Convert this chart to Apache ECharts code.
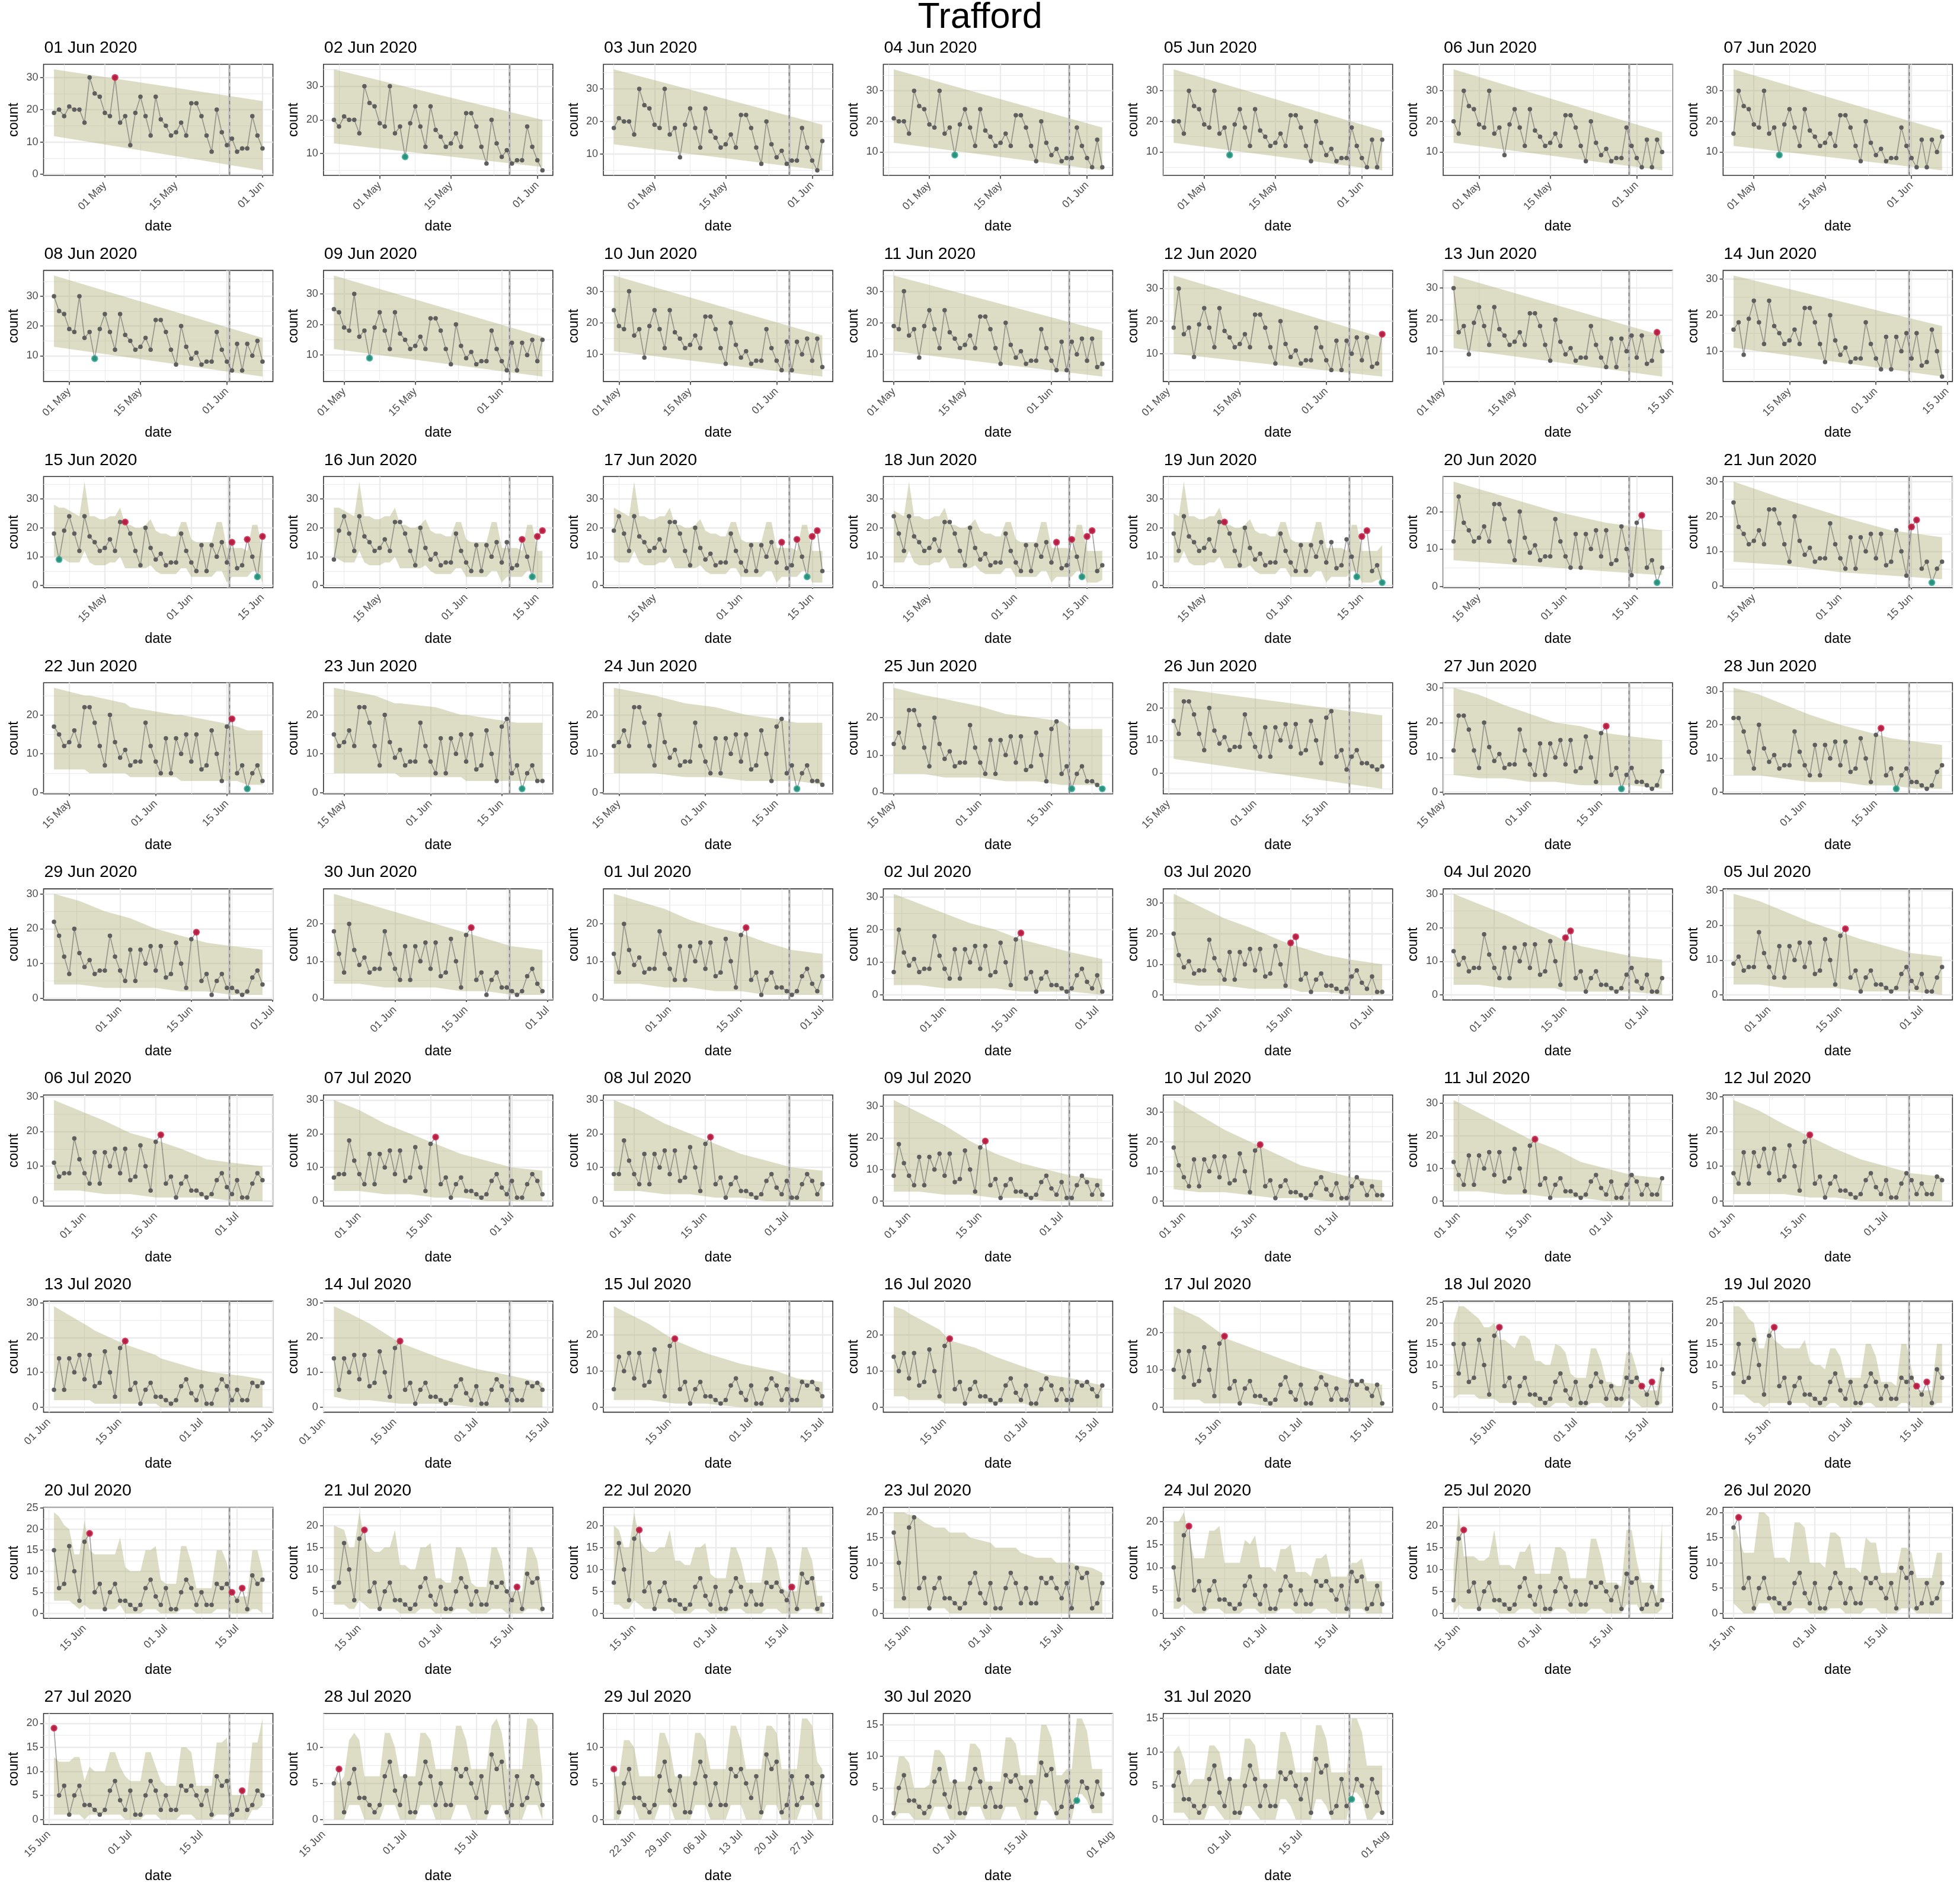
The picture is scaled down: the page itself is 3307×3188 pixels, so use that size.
<!DOCTYPE html>
<html><head><meta charset="utf-8">
<script src="https://cdn.jsdelivr.net/npm/echarts@6/dist/echarts.min.js"></script>
<style>html,body{margin:0;padding:0;background:#fff}#c{width:3307px;height:3188px}</style>
</head><body><div id="c"></div>
<script>
// ---------------- DATA ----------------
const mainTitle = 'Trafford';
const seriesStart = '2020-04-21';
// daily counts 21 Apr - 1 Jun
const countsAprMay = [19,20,18,21,20,20,16,30,25,24,19,18,30,16,18,9,19,24,18,12,24,17,15,12,13,16,12,22,22,18,12,7,20,13,9,11,7,8,8,18,12,8];
// daily counts 2 Jun - 13 Jul
const countsJunJul = [5,14,5,14,10,15,8,15,6,7,16,10,3,17,19,5,7,1,5,7,3,3,2,1,2,6,8,4,2,6,1,1,5,8,6,2,5,2,2,7,6,7];
// daily counts 14 Jul - 31 Jul
const countsJul = [5,3,6,1,9,7,8,1,2,6,2,3,6,5,2,6,4,1];

const panelDates = [
 '2020-06-01','2020-06-02','2020-06-03','2020-06-04','2020-06-05','2020-06-06','2020-06-07',
 '2020-06-08','2020-06-09','2020-06-10','2020-06-11','2020-06-12','2020-06-13','2020-06-14',
 '2020-06-15','2020-06-16','2020-06-17','2020-06-18','2020-06-19','2020-06-20','2020-06-21',
 '2020-06-22','2020-06-23','2020-06-24','2020-06-25','2020-06-26','2020-06-27','2020-06-28',
 '2020-06-29','2020-06-30','2020-07-01','2020-07-02','2020-07-03','2020-07-04','2020-07-05',
 '2020-07-06','2020-07-07','2020-07-08','2020-07-09','2020-07-10','2020-07-11','2020-07-12',
 '2020-07-13','2020-07-14','2020-07-15','2020-07-16','2020-07-17','2020-07-18','2020-07-19',
 '2020-07-20','2020-07-21','2020-07-22','2020-07-23','2020-07-24','2020-07-25','2020-07-26',
 '2020-07-27','2020-07-28','2020-07-29','2020-07-30','2020-07-31'];

// highlighted points (MM-DD) per panel
const redDates = [
 ['05-03'],[],[],[],[],[],[],
 [],[],[],[],['06-12'],['06-12'],[],
 ['05-19','06-09','06-12','06-15'],['06-12','06-15','06-16'],['06-09','06-12','06-15','06-16'],['06-09','06-12','06-15','06-16'],['05-19','06-15','06-16'],['06-16'],['06-15','06-16'],
 ['06-16'],[],[],[],[],['06-16'],['06-16'],
 ['06-16'],['06-16'],['06-16'],['06-16'],['06-15','06-16'],['06-15','06-16'],['06-16'],
 ['06-16'],['06-16'],['06-16'],['06-16'],['06-16'],['06-16'],['06-16'],
 ['06-16'],['06-16'],['06-16'],['06-16'],['06-16'],['06-16','07-14','07-16'],['06-16','07-14','07-16'],
 ['06-16','07-14','07-16'],['06-16','07-16'],['06-16','07-16'],[],['06-16'],['06-16'],['06-16'],
 ['06-16','07-23'],['06-18'],['06-18'],[],[]];
const greenDates = [
 [],['05-06'],[],['05-06'],['05-06'],[],['05-06'],
 ['05-06'],['05-06'],[],[],[],[],[],
 ['05-06','06-14'],['06-14'],['06-14'],['06-14'],['06-14','06-19'],['06-19'],['06-19'],
 ['06-19'],['06-19'],['06-19'],['06-19','06-25'],[],['06-19'],['06-19'],
 [],[],[],[],[],[],[],
 [],[],[],[],[],[],[],
 [],[],[],[],[],[],[],
 [],[],[],[],[],[],[],
 [],[],[],['07-25'],['07-25']];

// shared expected band (by date) for the 15-19 Jun panels, from 5 May
const junBandStart = '2020-05-05';
const junBandHi = [28,27,27,26,25,24,36,24,24,23,23,24,24,27,21,21,20,20,21,23,19,18,18,17,17,22,22,16,15,15,15,15,22,22,13,13,13,13,12,21,21,12,12,12,12,14];
const junBandLo = [10,10,9,8,8,8,12,8,7,7,7,8,8,10,6,6,6,6,6,7,5,4,4,4,4,6,6,3,3,3,3,3,5,5,1,3,3,3,3,5,5,1,1,1,2,2];

// daily bands (offset 0..41) for late-July panels
const lo0718 = [2,3,3,3,3,2,2,2,2,1,1,1,1,1,1,1,0,0,0,0,1,1,1,0,0,0,0,1,1,1,0,0,0,0,2,2,1,0,0,0,0,1];
const hi0718 = [20,24,24,23,22,21,19,19,20,16,16,15,14,17,17,16,11,11,10,10,15,14.5,13,8,7,7,7,14,14,11,6,6,5,5,13,13,9,4,4,4,4,12];
const lo0719 = [3,3,3,2,1,1,0,1,1,1,1,1,1,1,1,0,0,0,0,1,1,0,0,0,0,0,1,1,0,0,0,0,0,1,1,0,0,0,0,0,1,1];
const hi0719 = [24,24,23,21,20,14,14,19,16,15,14,14,14,14,16,11,10,10,9,14,14,12,7,7,7,7,15,15,12,6,6,6,5,15,15,9,4,4,4,4,15,15];
const lo0720 = [3,3,3,3,2,1,2,1,1,1,1,1,1,2,0,0,0,0,1,1,1,0,0,0,0,1,1,1,0,0,0,0,1,1,1,0,0,0,0,1,1,0];
const hi0720 = [24,23,21,20,14,14,22,15,14,14,14,14,14,18,11,10,10,10,15,15,16,8,7,7,7,16,16,12,6,6,6,6,15,15,12,4,4,4,4,15,15,10];
const lo0721 = [2,2,2,1,1,3,2,1,1,1,1,1,1,0,0,0,0,1,1,1,0,0,0,0,1,1,1,0,0,0,0,1,1,1,0,0,0,0,1,1,1,0];
const hi0721 = [20,19.5,19,15,15,23,17,15,14,14,15,15,19,11,11,10,10,15,15,16,8,8,7,7,15,15,12,7,6,6,6,15,15,12,5,5,5,5,15,15,12,4];
const lo0722 = [2,2,1,1,3,2,1,1,1,1,1,1,0,0,0,0,1,1,1,0,0,0,0,1,1,1,0,0,0,0,1,1,1,0,0,0,0,1,1,1,0,0];
const hi0722 = [20,19,15,15,23,17,15,14,14,15,15,19,12,12,11,11,15,15,16,9,8,8,8,15,15,12,7,7,7,7,15,15,12,6,5,5,5,15,15,12,4,4];
const lo0724 = [1,1,2,1,0,0,0,1,1,1,0,0,0,0,1,1,1,0,0,0,0,1,1,1,0,0,0,0,1,1,1,0,0,0,0,1,1,1,0,0,0,0];
const hi0724 = [20,20,22,17,12,12,12,18,18,19,11,11,11,11,16,15,17,10,10,10,9,14,14,15,9,9,9,8,12,12,13,8,8,8,8,11,11,12,7,7,7,7];
const lo0725 = [0,2,1,1,1,1,1,1,1,0,0,0,0,1,1,1,0,0,0,0,1,1,1,0,0,0,0,1,1,1,0,0,0,0,2,2,2,0,0,0,0,1];
const hi0725 = [11,23,13,13,13,12,12,13,19,11,11,11,10,14,14,16,9,9,9,9,15,15,14,8,8,8,8,17,17,13,7,7,7,6,19,19,12,7,7,7,4,21];
const lo0726 = [2,1,0,0,0,2,2,2,0,0,0,0,1,1,1,0,0,0,0,1,1,1,0,0,0,0,1,1,1,0,0,0,0,1,1,1,0,0,0,0,0,0];
const hi0726 = [18,15,12,12,12,20,20,19,11,11,11,10,18,18,17,10,10,10,9,16,16,15,9,9,9,8,15,14,14,8,8,8,8,13,13,12,7,7,7,7,12,12];
const lo0727 = [1,1,1,1,1,1,0,1,1,1,1,1,1,1,0,0,0,0,1,1,1,0,0,0,0,1,1,1,0,0,0,0,1,1,1,0,0,0,0,2,2,3];
const hi0727 = [13,12,12,12,13,13,8,11,10,10,10,14,14,11,9,8,8,8,14,14,11,8,7,7,7,15,15,14,7,7,7,7,16,16,17,5,5,5,5,16,16,21];
const lo0728 = [0,0,0,2,2,2,0,0,0,0,2,2,2,0,0,0,0,2,2,2,0,0,0,0,2,2,2,0,0,0,0,2,2,2,0,0,0,0,2,2,2,0];
const hi0728 = [6,5,6,11,12,11,6,6,6,6,12,12,10,6,6,6,6,12,12,11,7,7,7,7,13,13,11,7,7,7,7,13,14,12,7,7,7,7,14,14,13,6];
const lo0729 = [0,0,2,2,2,0,0,0,0,2,2,2,0,0,0,0,2,2,2,0,0,0,0,2,2,2,0,0,0,0,2,2,2,0,0,0,0,2,2,2,0,0];
const hi0729 = [6,6,11,11,10,6,6,6,6,12,12,10,6,6,6,6,12,12,11,7,7,7,7,13,13,11,7,7,7,7,13,13,12,7,7,7,7,14,14,13,8,7];
const lo0730 = [0,1,1,1,0,0,0,0,2,2,2,0,0,0,0,2,2,2,0,0,0,0,2,2,2,0,0,0,0,3,3,2,0,0,0,0,4,4,3,1,1,1];
const hi0730 = [5,10,10,9,5,5,5,5.5,11,11,10,6,6,6,6,12,12,11,6,6,6,6,13,13,12,7,7,7,7,15,15,13,7,7,8,8,16,16,14,8,8,8];
const lo0731 = [1,1,1,0,0,0,0,2,2,1,0,0,0,0,2,2,1,0,0,0,0,3,3,2,0,0,0,0,3,3,2,0,0,0,0,4,4,3,0,0,1,1];
const hi0731 = [10,11,9,5,6,6,6,11,11,10,6,6,6,6,12,12,11,6,6,6,6,13,13,11,7,7,7,7,14,14,12,7,7,7,7,15,15,13,8,8,8,8];

// expected band knots per panel: [dayOffset, lower, upper]
const bandKnots = [
 [[0,11.8,32.5],[41,1.2,22.7]],
 [[0,13,35],[41,6,20]],
 [[0,13,36],[41,5,19]],
 [[0,13,37],[41,4,18]],
 [[0,13,37],[41,4,17]],
 [[0,13,37],[41,4,16.5]],
 [[0,12,37],[41,4,17]],
 [[0,13,37],[41,3,16]],
 [[0,12,36],[41,3,16]],
 [[0,11,35],[41,3,16]],
 [[0,11,35],[41,3,17.5]],
 [[0,10,34],[41,3,15]],
 [[0,11,34],[41,2,15]],
 [[0,11,31],[41,3,17]],
 'jun','jun','jun','jun','jun',
 [[0,7,28],[10,6,24],[20,5,20],[30,4,17],[41,3,15]],
 [[0,7,30],[10,6,25],[21,4,20],[31,3,16],[41,2,14]],
 [[0,6,27],[6,6,25],[7,5,25],[14,5,23],[15,4,22],[24,4,20],[25,3,20],[33,3,18],[36,3,17],[38,2,16],[41,2,16]],
 [[0,5,27],[4,5,26],[8,5,25],[12,5,23],[13,4,23],[20,4,22],[25,4,20],[26,3,20],[31,3,19],[36,3,18],[41,3,18]],
 [[0,5,27],[8,5,25],[14,4,23],[20,4,22],[26,3,20],[32,3,19],[36,3,18],[41,2,18]],
 [[0,5,28],[6,5,26],[10,4,25],[17,4,23],[22,3,21],[28,3,20],[33,2,19],[35,2,17],[41,2,17]],
 [[0,4.3,26.2],[41,-4.9,17.7]],
 [[0,5,30],[5,4,28],[10,4,25],[15,3,22.5],[20,3,20],[25,2,19],[30,2,17],[35,2,16],[41,1,15]],
 [[0,5,31],[5,5,29],[10,4,26],[15,3,23],[21,3,20],[26,2,18],[31,2,16],[36,1,15],[41,1,14]],
 [[0,4,30],[5,4,28],[10,3,25],[15,3,23],[20,3,20],[25,2,18],[30,2,16],[35,1,15],[41,1,14]],
 [[0,4,28],[5,4,26],[10,3,24],[15,3,22],[20,3,20],[25,2,18],[30,2,16],[35,1,14],[41,1,13]],
 [[0,4,28],[5,4,26],[10,3,24],[15,3,21],[20,2,19],[25,2,17.5],[30,1,15],[35,1,13],[41,1,12]],
 [[0,3,31],[5,3,28],[10,2,25],[15,2,22],[20,2,20],[25,1,17],[30,1,15],[35,1,13],[41,0,11]],
 [[0,4,33],[5,3,29],[10,3,25],[15,2,22],[20,2,18.5],[23,2,16.5],[25,1,15.5],[30,1,13],[35,0,11.5],[41,0,10]],
 [[0,3,30],[5,3,27],[10,2,24],[15,2,20.5],[20,2,17.5],[22,1,16],[25,1,14.5],[30,1,13],[35,1,11.5],[41,0,10.5]],
 [[0,3,29],[5,3,27],[10,2,24],[15,2,21],[20,2,18.5],[25,1,16],[30,1,14],[35,1,12],[41,0,11]],
 [[0,3,29],[5,3,26],[10,2,23],[15,2,19.5],[20,1,17.5],[25,1,15],[30,1,12],[35,0,11],[41,0,10]],
 [[0,3,30],[5,3,27],[10,2,23],[15,2,20],[20,1,17],[25,1,14],[30,0,12],[35,0,10],[41,0,9]],
 [[0,3,30],[5,3,27],[10,2,23],[15,2,20],[20,1,17],[25,1,14],[30,0,12],[35,0,10],[41,0,9]],
 [[0,3,32],[5,3,28],[10,2,24],[15,2,19],[20,1,15],[25,1,12],[30,0,10],[35,0,8],[41,0,7]],
 [[0,4,34],[5,3,29],[10,3,24],[15,2,20],[20,1,16],[25,1,12],[30,0,10],[35,0,8],[41,0,7]],
 [[0,3,31],[5,3,27],[10,2,23],[15,2,19],[20,1,16],[25,1,12],[30,0,10],[35,0,8],[41,0,7]],
 [[0,2,29],[5,2,26],[10,2,22],[15,1,18.5],[20,1,15],[25,0,12],[30,0,10],[35,0,8],[41,0,7]],
 [[0,2,29],[7,2,23],[8,1,22],[14,1,18],[20,1,15],[21,0,14],[28,0,11],[31,0,10],[37,0,9],[41,0,8]],
 [[0,3,29],[3,2,27],[7,2,24],[13,1,18.5],[21,1,14],[28,0,11],[35,0,9],[41,0,7]],
 [[0,2,28],[7,2,23],[12,1,18.5],[18,1,15],[25,0,12],[32,0,10],[36,0,8],[41,0,7]],
 [[0,3,28],[2,3,27],[3,2,26],[9,2,21.5],[10,1,20],[11,1,18.5],[16,1,16.5],[20,1,14],[26,1,11],[27,0,10.5],[30,0,9],[35,0,8],[41,0,6]],
 [[0,2,27],[5,2,24],[6,1,23],[9,1,20],[10,1,18.5],[15,1,16],[20,0,13.5],[25,0,11],[30,0,9],[35,0,7],[41,0,6]],
 {lo:lo0718, hi:hi0718},
 {lo:lo0719, hi:hi0719},
 {lo:lo0720, hi:hi0720},
 {lo:lo0721, hi:hi0721},
 {lo:lo0722, hi:hi0722},
 [[0,1,20],[2,1,20],[3,1,19.5],[4,1,19.5],[6,1,18],[8,1,17],[10,1,17],[11,0,16],[14,0,16],[15,0,15],[19,0,14],[20,0,13],[24,0,13],[25,0,12],[28,0,11],[31,0,11],[32,0,10],[35,0,10],[36,0,9.5],[39,0,9],[41,0,8]],
 {lo:lo0724, hi:hi0724},
 {lo:lo0725, hi:hi0725},
 {lo:lo0726, hi:hi0726},
 {lo:lo0727, hi:hi0727},
 {lo:lo0728, hi:hi0728},
 {lo:lo0729, hi:hi0729},
 {lo:lo0730, hi:hi0730},
 {lo:lo0731, hi:hi0731}
];
const weeklyTickPanels = ['2020-07-29'];
const windowDays = 42;
const recentDays = 7;

// ---------------- HELPERS ----------------
const DAY = 86400000, BASE = Date.UTC(2020,0,1);
const MONTHS = ['Jan','Feb','Mar','Apr','May','Jun','Jul','Aug','Sep','Oct','Nov','Dec'];
function dnum(s){ const p = s.split('-').map(Number); return Math.round((Date.UTC(p[0],p[1]-1,p[2])-BASE)/DAY); }
function fmt(dn, yr){ const dt = new Date(BASE+Math.round(dn)*DAY); return String(dt.getUTCDate()).padStart(2,'0')+' '+MONTHS[dt.getUTCMonth()]+(yr?' '+dt.getUTCFullYear():''); }
const counts = countsAprMay.concat(countsJunJul, countsJul);
const s0 = dnum(seriesStart);
const countAt = d => counts[d - s0];

function xBreaks(xmin, xmax, weekly){
  const all = [];
  for (let d = Math.floor(xmin)-40; d <= Math.ceil(xmax)+40; d++){
    const dt = new Date(BASE+d*DAY);
    if (weekly ? dt.getUTCDay()===1 : (dt.getUTCDate()===1 || dt.getUTCDate()===15)) all.push(d);
  }
  const maj = all.filter(d => d>=xmin && d<=xmax);
  const mn = [];
  for (let k=0;k<all.length-1;k++){ const m=(all[k]+all[k+1])/2; if (m>=xmin && m<=xmax) mn.push(m); }
  return {maj, mn};
}
function yBreaks(ymin, ymax, step){
  const maj=[], mn=[];
  for (let v=Math.ceil(ymin/step)*step; v<=ymax+1e-9; v+=step) maj.push(v);
  for (let v=Math.floor(ymin/step)*step-step/2; v<=ymax; v+=step) if (v>=ymin) mn.push(v);
  return {maj, mn};
}

// ---------------- LAYOUT / STYLE ----------------
const F = "'Liberation Sans', Arial, Helvetica, sans-serif";
const COLW = 472.3, BOXL0 = 73.5, BOXT0 = 108.5, ROWH = 347.9, BOXW = 387, BOXH = 187.5;
const GRID = '#EBEBEB', BAND = 'rgba(170,168,108,0.4)';

const titles = [{text: mainTitle, left:'center', top:0, padding:0, textStyle:{fontSize:61, fontWeight:'normal', color:'#000', fontFamily:F}}];
const grids=[], xAxes=[], yAxes=[], series=[];

panelDates.forEach((pd, i) => {
  const col = i % 7, row = Math.floor(i/7);
  const L = BOXL0 + col*COLW, T = BOXT0 + row*ROWH;
  const last = dnum(pd), first = last - (windowDays-1);
  const pts = [];
  for (let d=first; d<=last; d++) pts.push([d, countAt(d)]);
  let knots = [];
  const bk = bandKnots[i];
  if (bk === 'jun'){
    const j0 = dnum(junBandStart);
    for (let d=first; d<=last; d++) knots.push([d-first, junBandLo[d-j0], junBandHi[d-j0]]);
  } else if (!Array.isArray(bk)){
    for (let k=0;k<bk.lo.length;k++) knots.push([k, bk.lo[k], bk.hi[k]]);
  } else knots = bk;
  const bandData = knots.map(k => [first+k[0], k[1], k[2]]);
  let lo = Infinity, hi = -Infinity;
  knots.forEach(k => { lo=Math.min(lo,k[1]); hi=Math.max(hi,k[2]); });
  pts.forEach(p => { lo=Math.min(lo,p[1]); hi=Math.max(hi,p[1]); });
  const ypad = 0.05*(hi-lo), ymin = lo-ypad, ymax = hi+ypad;
  const xmin = first - 0.05*(last-first), xmax = last + 0.05*(last-first);
  const xb = xBreaks(xmin, xmax, weeklyTickPanels.includes(pd));
  const yb = yBreaks(ymin, ymax, (hi-lo) > 25 ? 10 : 5);

  titles.push({text: fmt(last,true), left: L+1, top: T-42, padding:0,
    textStyle:{fontSize:28.5, fontWeight:'normal', color:'#000', fontFamily:F}});
  grids.push({left:L, top:T, width:BOXW, height:BOXH, show:true, borderColor:'#333333', borderWidth:1.6,
    backgroundColor:'rgba(0,0,0,0)', containLabel:false, outerBoundsMode:'none'});
  xAxes.push({type:'value', gridIndex:i, min:xmin, max:xmax,
    name:'date', nameLocation:'middle', nameGap:75, nameMoveOverlap:false,
    nameTextStyle:{fontSize:23.5, color:'#000', fontFamily:F},
    axisLine:{show:false}, splitLine:{show:false},
    axisTick:{show:true, customValues:xb.maj, length:5.7, lineStyle:{color:'#333333', width:1.5}},
    axisLabel:{show:true, customValues:xb.maj, rotate:45, margin:14, fontSize:18, color:'#4D4D4D', fontFamily:F,
      formatter: v => fmt(v,false)}});
  yAxes.push({type:'value', gridIndex:i, min:ymin, max:ymax,
    name:'count', nameLocation:'middle', nameGap:38, nameRotate:90, nameMoveOverlap:false,
    nameTextStyle:{fontSize:23.5, color:'#000', fontFamily:F},
    axisLine:{show:false}, splitLine:{show:false},
    axisTick:{show:true, customValues:yb.maj, length:5.7, lineStyle:{color:'#333333', width:1.5}},
    axisLabel:{show:true, customValues:yb.maj, margin:9, fontSize:18, color:'#4D4D4D', fontFamily:F}});

  const gridLines = [];
  xb.mn.forEach(v => gridLines.push({xAxis:v, lineStyle:{color:GRID, width:1.1, type:'solid'}}));
  yb.mn.forEach(v => gridLines.push({yAxis:v, lineStyle:{color:GRID, width:1.1, type:'solid'}}));
  xb.maj.forEach(v => gridLines.push({xAxis:v, lineStyle:{color:GRID, width:2.3, type:'solid'}}));
  yb.maj.forEach(v => gridLines.push({yAxis:v, lineStyle:{color:GRID, width:2.3, type:'solid'}}));

  // invisible carrier for panel grid lines
  series.push({type:'line', xAxisIndex:i, yAxisIndex:i, data:pts, symbol:'none', showSymbol:false,
    lineStyle:{opacity:0, width:0}, silent:true, z:1, animation:false,
    markLine:{silent:true, z:1, symbol:['none','none'], label:{show:false}, animation:false,
      emphasis:{disabled:true}, data:gridLines}});
  // expected band as a polygon drawn through the axis scales
  series.push({type:'custom', xAxisIndex:i, yAxisIndex:i, data:bandData, silent:true, z:2, animation:false,
    encode:{x:0, y:[1,2]},
    renderItem:(params, api) => {
      if (params.dataIndex !== 0) return null;
      const up = bandData.map(b => api.coord([b[0], b[2]]));
      const dn = bandData.slice().reverse().map(b => api.coord([b[0], b[1]]));
      return {type:'polygon', shape:{points: up.concat(dn)}, style:{fill: BAND, stroke:null}};
    }});
  // recent-week marker + observed counts
  series.push({type:'line', xAxisIndex:i, yAxisIndex:i, data:pts, symbol:'circle', symbolSize:7.5, showSymbol:true,
    itemStyle:{color:'#5E5E5E'}, lineStyle:{color:'rgba(105,105,105,0.6)', width:1.7}, silent:true, z:4, animation:false,
    markLine:{silent:true, z:3, symbol:['none','none'], label:{show:false}, animation:false, emphasis:{disabled:true},
      data:[{xAxis:last-(recentDays-0.5), lineStyle:{color:'#BEBEBE', width:3.5, type:'solid'}},
            {xAxis:last-(recentDays-0.5), lineStyle:{color:'#707070', width:1.2, type:[6,6]}}]}});
  const reds = redDates[i].map(s => { const d=dnum('2020-'+s); return [d, countAt(d)]; });
  const greens = greenDates[i].map(s => { const d=dnum('2020-'+s); return [d, countAt(d)]; });
  series.push({type:'scatter', xAxisIndex:i, yAxisIndex:i, data:reds, symbolSize:11.5,
    itemStyle:{color:'#C8103C'}, silent:true, z:6, animation:false});
  series.push({type:'scatter', xAxisIndex:i, yAxisIndex:i, data:greens, symbolSize:11.5,
    itemStyle:{color:'#1E9E87'}, silent:true, z:6, animation:false});
});

const chart = echarts.init(document.getElementById('c'), null, {renderer:'canvas', width:3307, height:3188});
chart.setOption({backgroundColor:'#ffffff', animation:false, title:titles, grid:grids, xAxis:xAxes, yAxis:yAxes, series:series});
</script>
</body></html>
